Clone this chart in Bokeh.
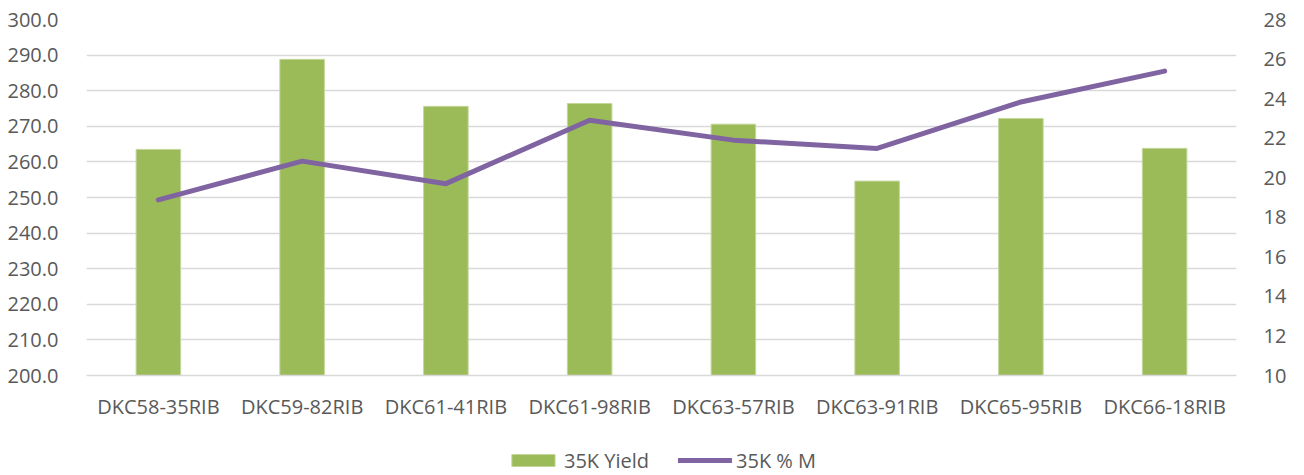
from bokeh.plotting import figure
from bokeh.layouts import column
from bokeh.models import (Range1d, LinearAxis, FixedTicker, Legend, LegendItem,
                          ColumnDataSource, NumeralTickFormatter)
from bokeh.embed import file_html
from bokeh.resources import INLINE

categories = ["DKC58-35RIB", "DKC59-82RIB", "DKC61-41RIB", "DKC61-98RIB",
              "DKC63-57RIB", "DKC63-91RIB", "DKC65-95RIB", "DKC66-18RIB"]
yield_35k = [263.5, 288.8, 275.6, 276.4, 270.6, 254.6, 272.2, 263.8]
moisture_35k = [18.88, 20.84, 19.7, 22.91, 21.9, 21.48, 23.83, 25.39]
left_ticks = [200, 210, 220, 230, 240, 250, 260, 270, 280, 290, 300]
right_ticks = [10, 12, 14, 16, 18, 20, 22, 24, 26, 28]
series_names = ["35K Yield", "35K % M"]

FONT = "Open Sans"
TXT = "#595959"
GRID = "#d9d9d9"
GREEN = "#9BBB59"
PURPLE = "#8064A2"

src = ColumnDataSource(dict(cat=categories, y=yield_35k, m=moisture_35k))

p = figure(x_range=categories, y_range=Range1d(200, 300),
           width=1304, height=445, output_backend="svg",
           toolbar_location=None,
           min_border_left=86, min_border_right=57, min_border_top=19,
           min_border_bottom=70)
p.outline_line_color = None
p.background_fill_color = "white"
p.border_fill_color = "white"

p.extra_y_ranges = {"m": Range1d(10, 28)}

bar_style = dict(fill_color=GREEN, line_color="#c4d79b", line_width=1)
line_style = dict(line_color=PURPLE, line_width=5, line_cap="round",
                  line_join="round")

p.vbar(x="cat", top="y", bottom=200, width=0.31, source=src, **bar_style)
p.line(x="cat", y="m", source=src, y_range_name="m", **line_style)

# left axis
ya = p.yaxis[0]
ya.ticker = FixedTicker(ticks=left_ticks)
ya.formatter = NumeralTickFormatter(format="0.0")
ya.axis_line_color = None
ya.major_tick_line_color = None
ya.minor_tick_line_color = None
ya.major_label_standoff = 22
ya.major_label_text_font = FONT
ya.major_label_text_font_size = "20px"
ya.major_label_text_color = TXT

# right axis
ra = LinearAxis(y_range_name="m", ticker=FixedTicker(ticks=right_ticks))
ra.axis_line_color = None
ra.major_tick_line_color = None
ra.minor_tick_line_color = None
ra.major_label_standoff = 21
ra.major_label_text_font = FONT
ra.major_label_text_font_size = "20px"
ra.major_label_text_color = TXT
p.add_layout(ra, "right")

# x axis
xa = p.xaxis[0]
xa.axis_line_color = GRID
xa.axis_line_width = 1.5
xa.major_tick_line_color = None
xa.minor_tick_line_color = None
xa.major_label_standoff = 11
xa.major_label_text_font = FONT
xa.major_label_text_font_size = "20px"
xa.major_label_text_color = TXT

p.xgrid.grid_line_color = None
p.ygrid.ticker = FixedTicker(ticks=left_ticks)
p.ygrid.grid_line_color = GRID
p.ygrid.grid_line_width = 1.5

# legend strip (separate figure; its proxy glyphs sit outside its visible range)
lg = figure(width=1304, height=30, output_backend="svg", toolbar_location=None,
            x_range=Range1d(0, 1), y_range=Range1d(0, 1),
            min_border_left=0, min_border_right=68, min_border_top=0,
            min_border_bottom=0, outline_line_color=None)
lg.axis.visible = False
lg.grid.visible = False
r_bar = lg.vbar(x=[-5], top=[-5], bottom=-6, width=0.1, **bar_style)
r_line = lg.line(x=[-5, -4], y=[-5, -5], **line_style)

legend = Legend(items=[LegendItem(label=series_names[0], renderers=[r_bar]),
                       LegendItem(label=series_names[1], renderers=[r_line])],
                orientation="horizontal", location="center",
                glyph_width=54, glyph_height=15, label_standoff=4,
                label_height=15,
                spacing=29, padding=0, margin=0,
                label_text_font=FONT, label_text_font_size="20px",
                label_text_color=TXT, border_line_color=None,
                background_fill_alpha=0)
lg.add_layout(legend, "center")

layout = column(p, lg, spacing=0)
open("out.html", "w").write(file_html(layout, INLINE))
